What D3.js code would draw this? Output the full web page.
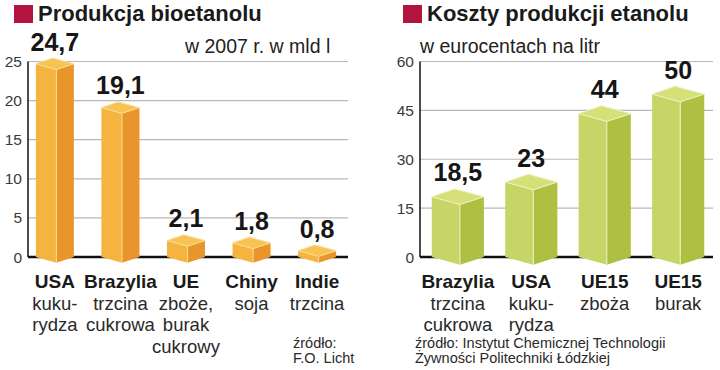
<!DOCTYPE html>
<html>
<head>
<meta charset="utf-8">
<script src="https://cdn.jsdelivr.net/npm/d3@7"></script>
<style>
  body { margin: 0; background: #fff; }
  svg { display: block; font-family: "Liberation Sans", Arial, sans-serif; }
</style>
</head>
<body>
<div id="chart-container"></div>
<script>
// production of bioethanol, 2007, bln litres
const prodCategories = ["USA", "Brazylia", "UE", "Chiny", "Indie"];
const prodValues = [24.7, 19.1, 2.1, 1.8, 0.8];
const prodSubLabels = [["kuku-", "rydza"], ["trzcina", "cukrowa"], ["zboże,", "burak", "cukrowy"], ["soja"], ["trzcina"]];
const prodTicks = [0, 5, 10, 15, 20, 25];

// production cost, eurocents per litre
const costCategories = ["Brazylia", "USA", "UE15", "UE15"];
const costValues = [18.5, 23, 44, 50];
const costSubLabels = [["trzcina", "cukrowa"], ["kuku-", "rydza"], ["zboża"], ["burak"]];
const costTicks = [0, 15, 30, 45, 60];

var svg = d3.select("#chart-container").append("svg")
    .attr("width", 720)
    .attr("height", 370);

svg.append("rect").attr("width", 720).attr("height", 370).attr("fill", "#fff");

const fmt = v => String(v).replace(".", ",");

function drawPanel(cfg) {
  var g = svg.append("g");

  // title with red square
  g.append("rect")
      .attr("x", cfg.titleX).attr("y", 5)
      .attr("width", 19).attr("height", 18)
      .attr("fill", "#b3143f");
  g.append("text")
      .attr("x", cfg.titleX + 24).attr("y", 21)
      .attr("font-size", 22).attr("font-weight", "bold")
      .attr("fill", "#1a1a1a")
      .text(cfg.title);
  g.append("text")
      .attr("x", cfg.unitX).attr("y", 53)
      .attr("font-size", 19.5)
      .attr("fill", "#222")
      .text(cfg.unit);

  var y = d3.scaleLinear().domain([0, cfg.ticks[cfg.ticks.length - 1]]).range([257, 61.5]);
  var x = d3.scaleBand()
      .domain(d3.range(cfg.values.length))
      .range(cfg.xRange)
      .paddingInner(cfg.padInner)
      .paddingOuter(cfg.padOuter);

  // gridlines
  g.append("g").selectAll("line")
      .data(cfg.ticks.filter(t => t > 0))
    .enter().append("line")
      .attr("x1", cfg.axisX).attr("x2", cfg.gridEnd)
      .attr("y1", d => y(d)).attr("y2", d => y(d))
      .attr("stroke", "#b8b8b8").attr("stroke-width", 1.2);

  // tick labels
  g.append("g").selectAll("text")
      .data(cfg.ticks)
    .enter().append("text")
      .attr("x", cfg.axisX - 6)
      .attr("y", d => y(d))
      .attr("dy", "0.36em")
      .attr("text-anchor", "end")
      .attr("font-size", 15.5)
      .attr("fill", "#3a3a3a")
      .text(d => d);

  // axis + baseline
  g.append("line")
      .attr("x1", cfg.axisX).attr("x2", cfg.axisX)
      .attr("y1", y(cfg.ticks[cfg.ticks.length - 1])).attr("y2", y(0))
      .attr("stroke", "#111").attr("stroke-width", 1.5);
  g.append("line")
      .attr("x1", cfg.axisX).attr("x2", cfg.gridEnd)
      .attr("y1", y(0)).attr("y2", y(0))
      .attr("stroke", "#111").attr("stroke-width", 2.5);

  // 3d bars
  var w = x.bandwidth(), d = w * 0.15, base = y(0);
  var bars = g.append("g").selectAll("g")
      .data(cfg.values)
    .enter().append("g");

  const face = (i, v, side) => {
    var x0 = x(i), x1 = x0 + w, xm = x0 + w * 0.54, xb = x0 + w * 0.44, t = y(v);
    if (side == "left") return `M${x0},${t}L${xm},${t + d}L${xm},${base + d}L${x0},${base}Z`;
    if (side == "right") return `M${xm},${t + d}L${x1},${t}L${x1},${base}L${xm},${base + d}Z`;
    return `M${x0},${t}L${xb},${t - d}L${x1},${t}L${xm},${t + d}Z`;
  };

  bars.append("path").attr("d", (v, i) => face(i, v, "left")).attr("fill", cfg.colors[0]);
  bars.append("path").attr("d", (v, i) => face(i, v, "right")).attr("fill", cfg.colors[1]);
  bars.append("path").attr("d", (v, i) => face(i, v, "top")).attr("fill", cfg.colors[2])
      .attr("stroke", cfg.colors[3]).attr("stroke-width", 1).attr("stroke-linejoin", "round");
  bars.append("line")
      .attr("x1", (v, i) => x(i) + w * 0.54).attr("x2", (v, i) => x(i) + w * 0.54)
      .attr("y1", v => y(v) + d).attr("y2", base + d)
      .attr("stroke", cfg.colors[3]).attr("stroke-width", 1);

  // value labels
  bars.append("text")
      .attr("x", (v, i) => x(i) + w / 2)
      .attr("y", v => y(v) - d - 7.5)
      .attr("text-anchor", "middle")
      .attr("font-size", 25).attr("font-weight", "bold")
      .attr("fill", "#161616")
      .text(v => fmt(v));

  // category labels
  var labels = g.append("g").selectAll("text")
      .data(cfg.categories)
    .enter().append("text")
      .attr("text-anchor", "middle")
      .attr("fill", "#1a1a1a");
  labels.append("tspan")
      .attr("x", (c, i) => x(i) + w / 2)
      .attr("y", 288)
      .attr("font-size", 19).attr("font-weight", "bold")
      .text(c => c);
  labels.each(function(c, i) {
    d3.select(this).selectAll("tspan.sub")
        .data(cfg.subLabels[i])
      .enter().append("tspan")
        .attr("class", "sub")
        .attr("x", x(i) + w / 2)
        .attr("y", (s, j) => 309.5 + j * 21.7)
        .attr("font-size", 18.5)
        .attr("fill", "#2a2a2a")
        .text(s => s);
  });

  // source
  var src = g.append("text")
      .attr("font-size", 14.5)
      .attr("fill", "#2a2a2a");
  cfg.source.forEach((s, j) => {
    src.append("tspan")
        .attr("x", cfg.sourceX)
        .attr("y", 348 + j * 15)
        .text(s);
  });
}

drawPanel({
  title: "Produkcja bioetanolu",
  titleX: 14,
  unit: "w 2007 r. w mld l",
  unitX: 185,
  categories: prodCategories,
  values: prodValues,
  subLabels: prodSubLabels,
  ticks: prodTicks,
  xRange: [28, 344],
  padInner: 0.42,
  padOuter: 0.12,
  axisX: 28,
  gridEnd: 348,
  colors: ["#f4b43f", "#e8962c", "#f7c352", "#fbdd96"],
  source: ["źródło:", "F.O. Licht"],
  sourceX: 293
});

drawPanel({
  title: "Koszty produkcji etanolu",
  titleX: 403,
  unit: "w eurocentach na litr",
  unitX: 420,
  categories: costCategories,
  values: costValues,
  subLabels: costSubLabels,
  ticks: costTicks,
  xRange: [420, 716],
  padInner: 0.29,
  padOuter: 0.16,
  axisX: 420,
  gridEnd: 713,
  colors: ["#c6d565", "#aebf42", "#d5e079", "#eef3c4"],
  source: ["źródło:  Instytut Chemicznej Technologii", "Żywności Politechniki Łódzkiej"],
  sourceX: 415
});
</script>
</body>
</html>
